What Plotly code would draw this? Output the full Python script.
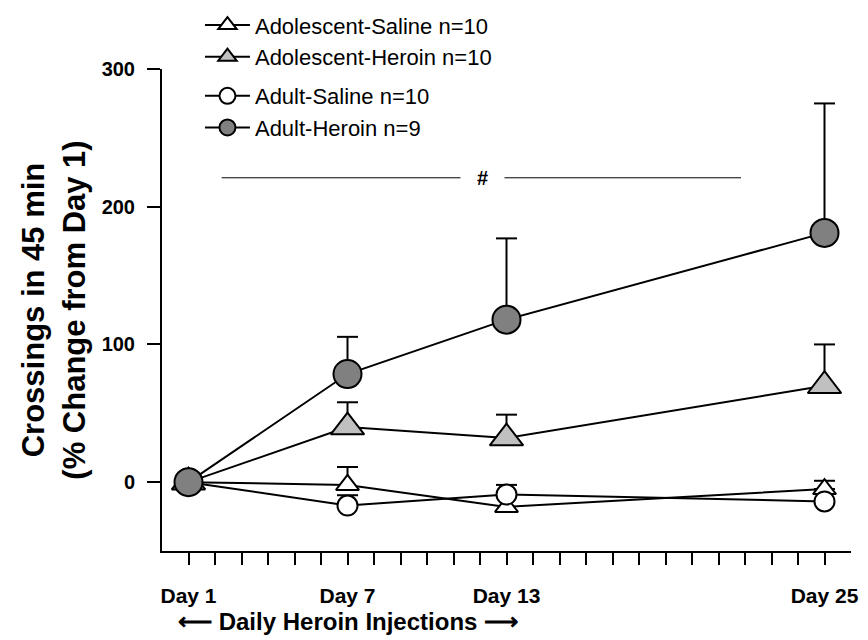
import plotly.graph_objects as go

# ---------------- data ----------------
days = [1, 7, 13, 25]
tick_days = list(range(1, 26))
labelled_days = {1: "Day 1", 7: "Day 7", 13: "Day 13", 25: "Day 25"}
y_ticks = [0, 100, 200, 300]

series_names = ["Adolescent-Saline n=10", "Adolescent-Heroin n=10",
                "Adult-Saline n=10", "Adult-Heroin n=9"]
adol_saline = [0, -2, -18, -5]
adol_saline_sem = [0, 13, 0, 6]
adol_heroin = [0, 40, 32, 70]
adol_heroin_sem = [0, 18, 17, 30]
adult_saline = [0, -17, -9, -14]
adult_saline_sem = [0, 7.5, 7, 9]
adult_heroin = [0, 78.5, 118, 181]
adult_heroin_sem = [0, 27, 59, 94]

sig_label = "#"
sig_value = 221
sig_span = [2.25, 21.85]
sig_label_day = 12.1

x_note = "\u27f5 Daily Heroin Injections \u27f6"
x_note_day = 7
y_title = "Crossings in 45 min<br>(% Change from Day 1)"

# ---------------- styles ----------------
FONT = "Liberation Sans, Arial, Helvetica, sans-serif"
styles = [
    dict(symbol="triangle-up", size=20, color="white", legend="legend"),
    dict(symbol="triangle-up", size=29, color="#c0c0c0", legend="legend"),
    dict(symbol="circle", size=20, color="white", legend="legend2"),
    dict(symbol="circle", size=28, color="#808080", legend="legend2"),
]
means = [adol_saline, adol_heroin, adult_saline, adult_heroin]
sems = [adol_saline_sem, adol_heroin_sem, adult_saline_sem, adult_heroin_sem]

fig = go.Figure()

# error bars (upward only): stems and caps built from the data arrays
stem_x, stem_y, cap_x, cap_y = [], [], [], []
for m, s in zip(means, sems):
    for d, v, e in zip(days, m, s):
        if e > 0:
            stem_x += [d, d, None]
            stem_y += [v, v + e, None]
            cap_x.append(d)
            cap_y.append(v + e)
fig.add_trace(go.Scatter(x=stem_x, y=stem_y, mode="lines",
                         line=dict(color="black", width=2),
                         showlegend=False, hoverinfo="skip"))
fig.add_trace(go.Scatter(x=cap_x, y=cap_y, mode="markers",
                         marker=dict(symbol="line-ew", size=15,
                                     line=dict(color="black", width=2)),
                         showlegend=False, hoverinfo="skip"))

for name, m, st in zip(series_names, means, styles):
    fig.add_trace(go.Scatter(
        x=days, y=m, mode="lines+markers", name=name,
        legend=st["legend"],
        line=dict(color="black", width=2),
        marker=dict(symbol=st["symbol"], size=st["size"], color=st["color"],
                    line=dict(color="black", width=2)),
    ))

# significance bar
fig.add_shape(type="line", xref="x", yref="y",
              x0=sig_span[0], x1=sig_span[1], y0=sig_value, y1=sig_value,
              line=dict(color="black", width=1))
fig.add_annotation(x=sig_label_day, y=sig_value, xref="x", yref="y",
                   text=sig_label, showarrow=False, bgcolor="white",
                   borderpad=16,
                   font=dict(family=FONT, size=20, color="black", weight="bold"))

fig.add_annotation(x=x_note_day, y=-0.146, xref="x", yref="paper",
                   text=x_note, showarrow=False, yanchor="middle",
                   font=dict(family=FONT, size=24, color="black", weight="bold"))

fig.update_layout(
    template="none",
    width=868, height=640,
    margin=dict(l=154, r=25, t=61, b=96.5, pad=0, autoexpand=False),
    paper_bgcolor="white", plot_bgcolor="white",
    font=dict(family=FONT, color="black"),
    xaxis=dict(range=[0, 26], tickmode="array", tickvals=tick_days,
               ticktext=[labelled_days.get(d, "") for d in tick_days],
               ticks="outside", ticklen=12, tickwidth=2, tickcolor="black",
               showline=True, linewidth=2, linecolor="black",
               showgrid=False, zeroline=False, ticklabelstandoff=13,
               tickfont=dict(family=FONT, size=21, color="black", weight="bold")),
    yaxis=dict(range=[-50, 300], tickmode="array", tickvals=y_ticks,
               ticks="outside", ticklen=13, tickwidth=2, tickcolor="black",
               showline=True, linewidth=2, linecolor="black",
               showgrid=False, zeroline=False, ticklabelstandoff=8,
               tickfont=dict(family=FONT, size=20, color="black", weight="bold"),
               title=dict(text=y_title, standoff=7,
                          font=dict(family=FONT, size=31, color="black", weight="bold"))),
    legend=dict(x=0.0551, y=1.1343, xanchor="left", yanchor="top",
                bgcolor="rgba(0,0,0,0)", tracegroupgap=0, itemwidth=45,
                font=dict(family=FONT, size=22, color="black")),
    legend2=dict(x=0.0551, y=0.9874, xanchor="left", yanchor="top",
                 bgcolor="rgba(0,0,0,0)", tracegroupgap=0, itemwidth=45,
                 font=dict(family=FONT, size=22, color="black")),
    showlegend=True,
)

fig.write_html("out.html")
